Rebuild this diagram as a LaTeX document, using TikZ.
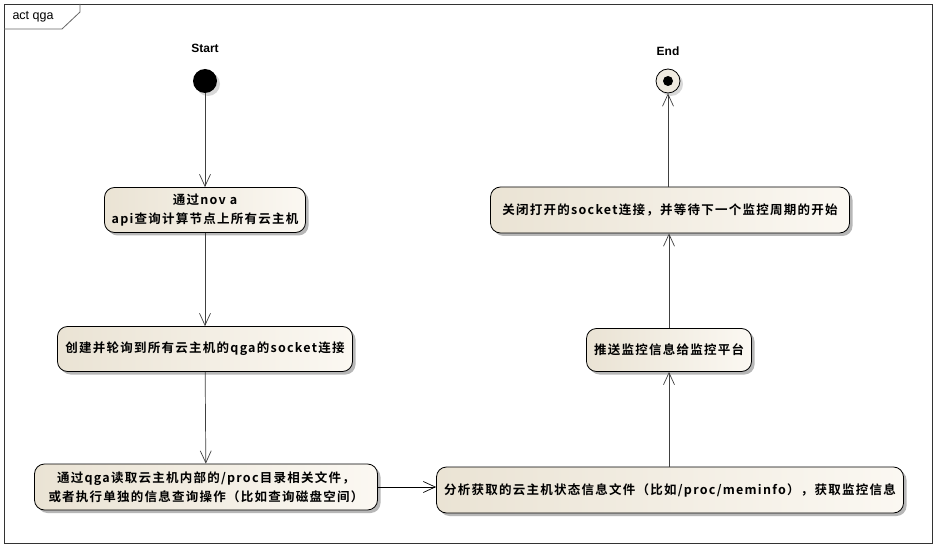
\documentclass[tikz,border=0pt]{standalone}
\usepackage{fontspec}
\setmainfont{Liberation Sans}
\newfontfamily\cjk{Noto Sans CJK SC Bold}[LetterSpace=10]
\usetikzlibrary{arrows.meta,shadows}
\definecolor{lineclr}{HTML}{404040}
\definecolor{fillA}{HTML}{EAE3D4}
\definecolor{fillB}{HTML}{FBF8F2}
\tikzset{
  actbox/.style={draw=black, line width=0.8pt, rounded corners=10pt,
    left color=fillA, right color=fillB, align=center, inner sep=2pt,
    font=\cjk\fontsize{12.5}{19}\selectfont,
    drop shadow={shadow xshift=3pt, shadow yshift=-3pt, fill=black!35, opacity=0.8}},
  flow/.style={draw=lineclr, line width=0.7pt, -{Straight Barb[length=12pt,width=11pt,line width=0.7pt]}},
  lbl/.style={font=\bfseries\fontsize{12}{14}\selectfont}
}
\begin{document}
\begin{tikzpicture}[x=1pt,y=-1pt]
\useasboundingbox (0,0) rectangle (937,548);
\fill[white] (0,0) rectangle (937,548);
% frame
\draw[line width=0.8pt, draw=black!80] (4,4) rectangle (932,543);
\draw[line width=0.8pt, draw=black!60] (4,29) -- (62,29) -- (80,12) -- (80,4);
\node[anchor=west, font=\fontsize{12.5}{14}\selectfont] (title) at (9,16.5) {act qga};
% start / end
\node[circle, fill=black, minimum size=24pt, inner sep=0pt,
  drop shadow={shadow xshift=3pt, shadow yshift=-3pt, fill=black!30}] (start) at (205,81) {};
\node[lbl] (startlbl) at (205,48) {Start};
\node[circle, draw=black, line width=0.8pt, fill=fillA!70, minimum size=24pt, inner sep=0pt,
  drop shadow={shadow xshift=3pt, shadow yshift=-3pt, fill=black!30}] (end) at (668,81) {};
\node[circle, fill=black, minimum size=10pt, inner sep=0pt] (enddot) at (668,81) {};
\node[lbl] (endlbl) at (668,51) {End};
% activities
\node[actbox, minimum width=201pt, minimum height=45pt] (n1) at (205,210)
  {通过nov a\\api查询计算节点上所有云主机};
\node[actbox, minimum width=295pt, minimum height=45pt] (n2) at (205,349)
  {创建并轮询到所有云主机的qga的socket连接};
\node[actbox, minimum width=343pt, minimum height=46pt] (n3) at (206,487)
  {通过qga读取云主机内部的/proc目录相关文件，\\或者执行单独的信息查询操作（比如查询磁盘空间）};
\node[actbox, minimum width=467pt, minimum height=46pt] (n4) at (670,490)
  {分析获取的云主机状态信息文件（比如/proc/meminfo），获取监控信息};
\node[actbox, minimum width=165pt, minimum height=43pt] (n5) at (669,350)
  {推送监控信息给监控平台};
\node[actbox, minimum width=359pt, minimum height=46pt] (n6) at (670,210)
  {关闭打开的socket连接，并等待下一个监控周期的开始};
% flows
\draw[flow] (start) -- (n1);
\draw[flow] (n1) -- (n2);
\draw[flow] (n2) -- (n3);
\draw[flow, draw=black] (n3.east) -- (n3.east -| n4.west);
\draw[flow] (n4.north -| n5) -- (n5);
\draw[flow] (n5.north) -- (n5.north |- n6.south);
\draw[flow] (n6.north -| end) -- (end);
\end{tikzpicture}
\end{document}
